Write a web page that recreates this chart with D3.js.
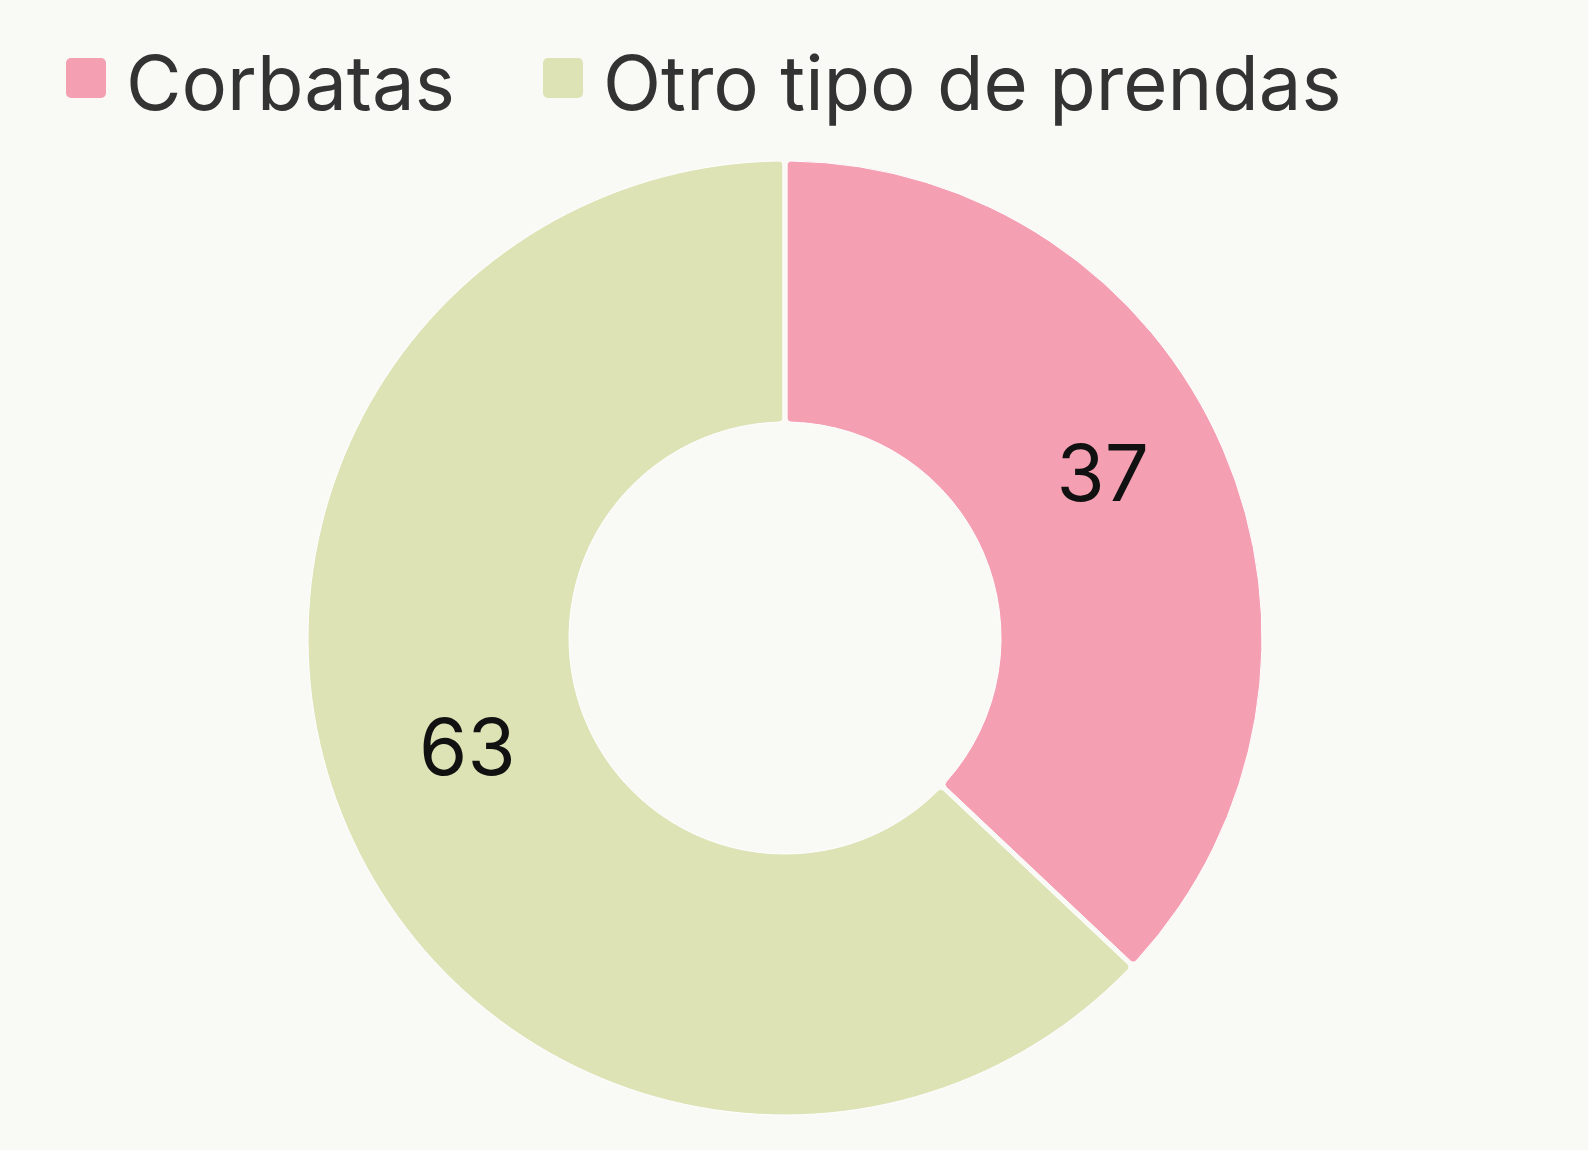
<!DOCTYPE html>
<html><head><meta charset="utf-8">
<script src="https://cdn.jsdelivr.net/npm/d3@7"></script>
<style>body{margin:0;background:#f9f9f6}</style>
</head><body>
<script>
var categories = ['Corbatas', 'Otro tipo de prendas'];
var values = [37, 63];
var colors = ['#f49fb2', '#dde3b5'];

var svg = d3.select('body').append('svg')
  .attr('width', 1588).attr('height', 1150)
  .style('background', '#f9f9f6');

// legend
var legendX = [66, 543];
var legend = svg.selectAll('g.legend').data(categories).enter().append('g')
  .attr('class', 'legend')
  .attr('transform', function(d, i) { return 'translate(' + legendX[i] + ',58)'; });
legend.append('rect')
  .attr('width', 40).attr('height', 40).attr('rx', 5)
  .attr('fill', function(d, i) { return colors[i]; });
legend.append('text')
  .attr('x', 60).attr('y', 52)
  .attr('font-family', 'Inter, "Open Sans", sans-serif')
  .attr('font-size', 76)
  .attr('fill', '#333')
  .text(function(d) { return d; });

var pie = d3.pie().sort(null).padAngle(0.008);
var arc = d3.arc().innerRadius(216).outerRadius(477).cornerRadius(4);
var labelArc = d3.arc().innerRadius(346).outerRadius(346);

var g = svg.append('g').attr('transform', 'translate(785,638)');
var slices = g.selectAll('g.slice').data(pie(values)).enter().append('g');
slices.append('path')
  .attr('d', arc)
  .attr('fill', function(d, i) { return colors[i]; })
  .attr('stroke', '#ffffff').attr('stroke-width', 1);
slices.append('text')
  .attr('transform', function(d) { return 'translate(' + labelArc.centroid(d) + ')'; })
  .attr('text-anchor', 'middle')
  .attr('font-family', 'Inter, "Open Sans", sans-serif')
  .attr('font-size', 78)
  .attr('fill', '#111')
  .text(function(d) { return d.data; });
</script>
</body></html>
